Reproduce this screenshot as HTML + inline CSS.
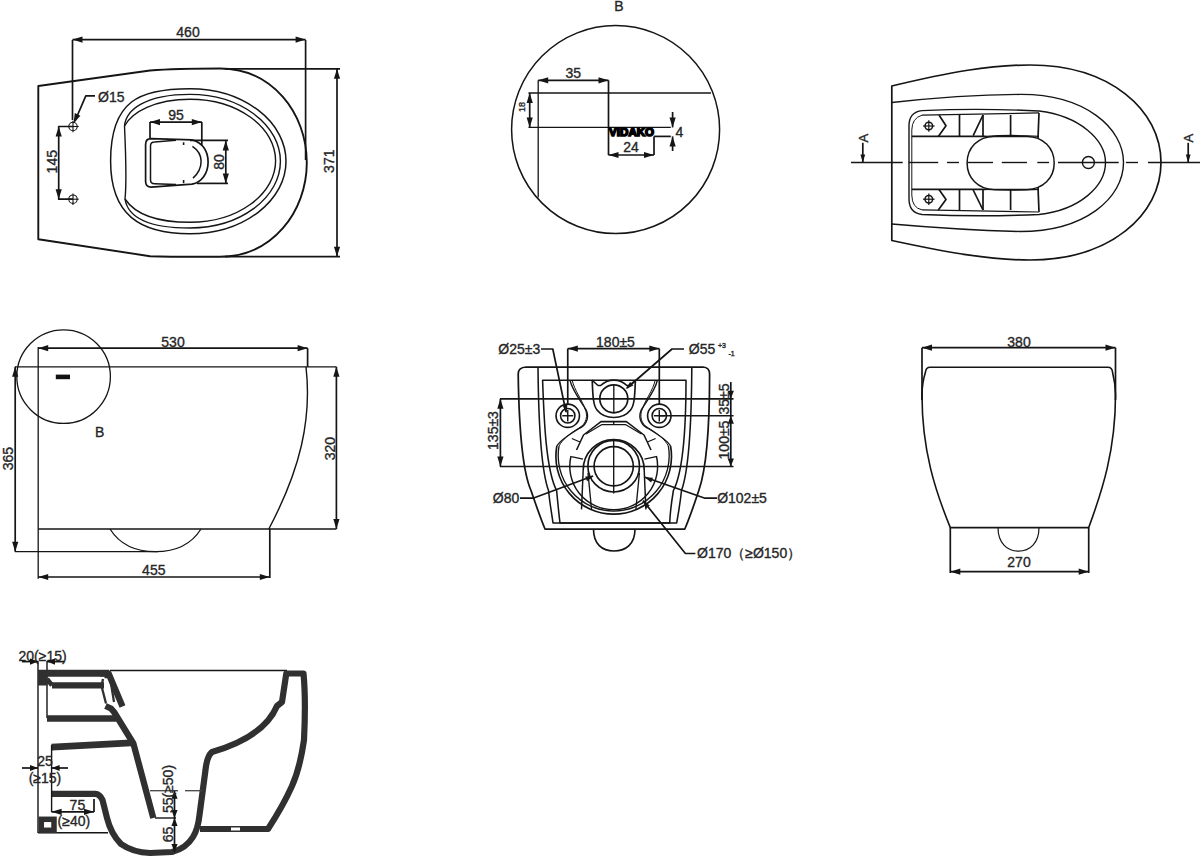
<!DOCTYPE html>
<html><head><meta charset="utf-8"><style>
html,body{margin:0;padding:0;background:#fff;}
svg{display:block;}
text{font-family:"Liberation Sans",sans-serif;}
</style></head><body>
<svg width="1200" height="858" viewBox="0 0 1200 858">
<rect width="1200" height="858" fill="#fff"/>
<line x1="72.5" y1="40" x2="72.5" y2="120" stroke="#151515" stroke-width="1.7" />
<line x1="305.6" y1="40" x2="305.6" y2="160" stroke="#151515" stroke-width="1.7" />
<line x1="72.5" y1="39.6" x2="305.6" y2="39.6" stroke="#151515" stroke-width="1.7" />
<polygon points="72.5,39.6 82.5,36.5 82.5,42.7" fill="#151515"/>
<polygon points="305.6,39.6 295.6,42.7 295.6,36.5" fill="#151515"/>
<text x="188" y="31.5" font-size="14" text-anchor="middle" dominant-baseline="central" fill="#262626" stroke="#262626" stroke-width="0.35" >460</text>
<path d="M38.3,86 L38.3,239.2 L150,256.2 Q175,257 220,256.7 C272,256.7 306.8,212 306.8,162.6 C306.8,113 272,68.5 220,68.5 Q175,68.5 150,70.5 Z" fill="none" stroke="#151515" stroke-width="1.9" stroke-linejoin="round" />
<line x1="225" y1="68.8" x2="340" y2="68.8" stroke="#151515" stroke-width="1.7" />
<line x1="225" y1="256.7" x2="340" y2="256.7" stroke="#151515" stroke-width="1.7" />
<line x1="337" y1="68.8" x2="337" y2="256.7" stroke="#151515" stroke-width="1.7" />
<polygon points="337.0,68.8 340.1,78.8 333.9,78.8" fill="#151515"/>
<polygon points="337.0,256.7 333.9,246.7 340.1,246.7" fill="#151515"/>
<text x="329.5" y="161.2" font-size="14" text-anchor="middle" dominant-baseline="central" fill="#262626" stroke="#262626" stroke-width="0.35" transform="rotate(-90 329.5 161.2)" >371</text>
<path d="M190,88.7 A96,72.55 0 0 1 190,233.8 C140,233.8 110.6,215 110.6,161 C110.6,100 140,88.7 190,88.7 Z" fill="none" stroke="#151515" stroke-width="1.5" stroke-linejoin="round" />
<path d="M190,94.4 A90.4,66.8 0 0 1 190,228 C150,228 128,218 125,199 Q127,180 124.5,126 C126,110 145,94.4 190,94.4 Z" fill="none" stroke="#151515" stroke-width="1.4" stroke-linejoin="round" />
<path d="M190,99.2 A85.6,61.55 0 0 1 190,222.3 C155,222.3 135,214 125,199 M124.5,126 C132,112 155,99.2 190,99.2" fill="none" stroke="#151515" stroke-width="1.4" stroke-linejoin="round" />
<path d="M151.2,138.6 L192,139.8 C202,142 208.1,151 208.1,162 C208.1,173 202,182 192,184.2 L151.2,187.2 Q145.6,187.2 145.6,181.6 L145.6,144.2 Q145.6,138.6 151.2,138.6 Z" fill="none" stroke="#151515" stroke-width="1.7" stroke-linejoin="round" />
<path d="M176,140.2 L154.5,142.1 Q150.5,142.1 150.5,146.1 L150.5,179.7 Q150.5,183.7 154.5,183.7 L176,184.6" fill="none" stroke="#151515" stroke-width="1.5" stroke-linejoin="round" />
<path d="M192.4,146.3 Q201.1,152 201.1,161.3 Q201.1,171 193,178.1" fill="none" stroke="#151515" stroke-width="1.5" stroke-linejoin="round" />
<line x1="183.6" y1="142.3" x2="183.6" y2="145" stroke="#151515" stroke-width="1.6" />
<line x1="183.6" y1="180" x2="183.6" y2="183.2" stroke="#151515" stroke-width="1.6" />
<line x1="150" y1="122" x2="150" y2="138.2" stroke="#151515" stroke-width="1.7" />
<line x1="201.8" y1="122" x2="201.8" y2="146" stroke="#151515" stroke-width="1.7" />
<line x1="150" y1="122.1" x2="201.8" y2="122.1" stroke="#151515" stroke-width="1.7" />
<polygon points="150.0,122.1 160.0,119.0 160.0,125.2" fill="#151515"/>
<polygon points="201.8,122.1 191.8,125.2 191.8,119.0" fill="#151515"/>
<text x="176" y="114.5" font-size="14" text-anchor="middle" dominant-baseline="central" fill="#262626" stroke="#262626" stroke-width="0.35" >95</text>
<line x1="190" y1="140.4" x2="228" y2="140.4" stroke="#151515" stroke-width="1.7" />
<line x1="197" y1="183.4" x2="228" y2="183.4" stroke="#151515" stroke-width="1.7" />
<line x1="225.8" y1="140.4" x2="225.8" y2="183.4" stroke="#151515" stroke-width="1.7" />
<polygon points="225.8,140.4 228.9,150.4 222.7,150.4" fill="#151515"/>
<polygon points="225.8,183.4 222.7,173.4 228.9,173.4" fill="#151515"/>
<text x="218.6" y="162" font-size="14" text-anchor="middle" dominant-baseline="central" fill="#262626" stroke="#262626" stroke-width="0.35" transform="rotate(-90 218.6 162)" >80</text>
<circle cx="73" cy="126.5" r="4.2" fill="none" stroke="#151515" stroke-width="1.1"/>
<line x1="67.3" y1="126.5" x2="78.7" y2="126.5" stroke="#151515" stroke-width="1.1" />
<line x1="73" y1="120.8" x2="73" y2="132.2" stroke="#151515" stroke-width="1.1" />
<circle cx="73" cy="199.2" r="4.2" fill="none" stroke="#151515" stroke-width="1.1"/>
<line x1="67.3" y1="199.2" x2="78.7" y2="199.2" stroke="#151515" stroke-width="1.1" />
<line x1="73" y1="193.5" x2="73" y2="204.89999999999998" stroke="#151515" stroke-width="1.1" />
<polyline points="73,126.5 58.7,126.5 58.7,199.2 73,199.2" fill="none" stroke="#151515" stroke-width="1.7" stroke-linejoin="round"/>
<polygon points="58.7,126.5 61.8,136.5 55.6,136.5" fill="#151515"/>
<polygon points="58.7,199.2 55.6,189.2 61.8,189.2" fill="#151515"/>
<text x="51.7" y="161.7" font-size="14" text-anchor="middle" dominant-baseline="central" fill="#262626" stroke="#262626" stroke-width="0.35" transform="rotate(-90 51.7 161.7)" >145</text>
<polyline points="95,95.8 85.8,95.8 75,121" fill="none" stroke="#151515" stroke-width="1.7" stroke-linejoin="round"/>
<polygon points="73.5,123.5 74.8,113.1 80.4,115.7" fill="#151515"/>
<text x="111.3" y="96.5" font-size="14" text-anchor="middle" dominant-baseline="central" fill="#262626" stroke="#262626" stroke-width="0.35" >Ø15</text>
<text x="619" y="6" font-size="14" text-anchor="middle" dominant-baseline="central" fill="#262626" stroke="#262626" stroke-width="0.35" >B</text>
<circle cx="615.6" cy="129.6" r="104" fill="none" stroke="#151515" stroke-width="1.5"/>
<line x1="538.2" y1="80.3" x2="608.5" y2="80.3" stroke="#151515" stroke-width="1.7" />
<polygon points="538.2,80.3 548.2,77.2 548.2,83.4" fill="#151515"/>
<polygon points="608.5,80.3 598.5,83.4 598.5,77.2" fill="#151515"/>
<text x="573.3" y="72.5" font-size="14" text-anchor="middle" dominant-baseline="central" fill="#262626" stroke="#262626" stroke-width="0.35" >35</text>
<line x1="538.2" y1="80.3" x2="538.2" y2="197.4" stroke="#151515" stroke-width="1.3" />
<line x1="608.5" y1="80.3" x2="608.5" y2="155" stroke="#151515" stroke-width="1.7" />
<line x1="528.5" y1="93" x2="711" y2="93" stroke="#151515" stroke-width="1.3" />
<line x1="528.5" y1="127.4" x2="670.8" y2="127.4" stroke="#151515" stroke-width="1.3" />
<line x1="529.7" y1="93" x2="529.7" y2="127.4" stroke="#151515" stroke-width="1.7" />
<polygon points="529.7,93.0 532.8,103.0 526.6,103.0" fill="#151515"/>
<polygon points="529.7,127.4 526.6,117.4 532.8,117.4" fill="#151515"/>
<text x="521.6" y="107" font-size="9" text-anchor="middle" dominant-baseline="central" fill="#262626" stroke="#262626" stroke-width="0.35" transform="rotate(-90 521.6 107)" >18</text>
<text x="631.6" y="132.2" font-size="11.5" font-weight="bold" text-anchor="middle" dominant-baseline="central" fill="#000" textLength="45" lengthAdjust="spacingAndGlyphs" stroke="#000" stroke-width="1.6">VIDAKO</text>
<line x1="654" y1="136.4" x2="670.8" y2="136.4" stroke="#151515" stroke-width="1.7" />
<line x1="654" y1="136.4" x2="654" y2="155" stroke="#151515" stroke-width="1.7" />
<line x1="608.5" y1="155" x2="654" y2="155" stroke="#151515" stroke-width="1.7" />
<polygon points="608.5,155.0 618.5,151.9 618.5,158.1" fill="#151515"/>
<polygon points="654.0,155.0 644.0,158.1 644.0,151.9" fill="#151515"/>
<text x="631" y="147.4" font-size="14" text-anchor="middle" dominant-baseline="central" fill="#262626" stroke="#262626" stroke-width="0.35" >24</text>
<line x1="672.6" y1="112" x2="672.6" y2="127.4" stroke="#151515" stroke-width="1.7" />
<polygon points="672.6,127.4 669.5,117.4 675.7,117.4" fill="#151515"/>
<line x1="672.6" y1="136.4" x2="672.6" y2="151" stroke="#151515" stroke-width="1.7" />
<polygon points="672.6,136.4 675.7,146.4 669.5,146.4" fill="#151515"/>
<text x="679.5" y="132.4" font-size="14" text-anchor="middle" dominant-baseline="central" fill="#262626" stroke="#262626" stroke-width="0.35" >4</text>
<path d="M891.8,86 L891.8,240.5 C950,253 990,260 1030,260 C1110,260 1161,215 1161,162.5 C1161,110 1110,65 1030,65 C990,65 950,72 891.8,86 Z" fill="none" stroke="#151515" stroke-width="1.7" stroke-linejoin="round" />
<path d="M891.8,102.5 Q960,95 1020,94.4 C1085,94 1123.5,128 1123.5,162.5 C1123.5,198 1085,231.5 1020,231.5 Q960,230 891.8,224" fill="none" stroke="#151515" stroke-width="1.4" stroke-linejoin="round" />
<path d="M922,110.6 Q980,108 1039,111 C1080,116 1105.5,140 1105.5,162.5 C1105.5,186 1080,210 1039,214.5 Q980,217 922,214.5 Q909,213 909,199 L909,126 Q909,112 922,110.6 Z" fill="none" stroke="#151515" stroke-width="1.4" stroke-linejoin="round" />
<path d="M922,115.2 Q912,118 911.8,130 L911.8,195 Q912,208 922,209.8" fill="none" stroke="#151515" stroke-width="1.0" stroke-linejoin="round" />
<path d="M922,115.2 Q990,114 1039,112.9" fill="none" stroke="#151515" stroke-width="1.2" stroke-linejoin="round" />
<path d="M922,209.8 Q990,211 1039,212" fill="none" stroke="#151515" stroke-width="1.2" stroke-linejoin="round" />
<line x1="911.8" y1="136.4" x2="986" y2="136.4" stroke="#151515" stroke-width="1.7" />
<line x1="911.8" y1="189.4" x2="986" y2="189.4" stroke="#151515" stroke-width="1.7" />
<path d="M986,136.4 Q1010,134.5 1039,136.4" fill="none" stroke="#151515" stroke-width="1.2" stroke-linejoin="round" />
<path d="M986,189.4 Q1010,191 1039,189.4" fill="none" stroke="#151515" stroke-width="1.2" stroke-linejoin="round" />
<line x1="959.5" y1="115" x2="959.5" y2="136.4" stroke="#151515" stroke-width="1.7" />
<line x1="959.5" y1="189.4" x2="959.5" y2="210" stroke="#151515" stroke-width="1.7" />
<line x1="983" y1="115" x2="983" y2="136.4" stroke="#151515" stroke-width="1.7" />
<line x1="983" y1="189.4" x2="983" y2="210" stroke="#151515" stroke-width="1.7" />
<line x1="1010.6" y1="115" x2="1010.6" y2="136.4" stroke="#151515" stroke-width="1.7" />
<line x1="1010.6" y1="189.4" x2="1010.6" y2="210" stroke="#151515" stroke-width="1.7" />
<line x1="1039" y1="112.9" x2="1038" y2="138" stroke="#151515" stroke-width="1.7" />
<line x1="1039" y1="212" x2="1038" y2="187" stroke="#151515" stroke-width="1.7" />
<line x1="973.2" y1="135.6" x2="983" y2="115" stroke="#151515" stroke-width="1.7" />
<line x1="973.2" y1="190" x2="983" y2="210" stroke="#151515" stroke-width="1.7" />
<polyline points="939,115 946,125.8 938.3,136.4" fill="none" stroke="#151515" stroke-width="1.7" stroke-linejoin="round"/>
<polyline points="939,189.4 946,199.6 938.3,210" fill="none" stroke="#151515" stroke-width="1.7" stroke-linejoin="round"/>
<path d="M994,136.4 L1027,136.4 C1043,136.4 1054.2,148 1054.2,163 C1054.2,178 1043,189.4 1027,189.4 L994,189.4 C978,189.4 967.1,178 967.1,163 C967.1,148 978,136.4 994,136.4 Z" fill="none" stroke="#151515" stroke-width="1.5" stroke-linejoin="round" />
<circle cx="1088.4" cy="162.5" r="6" fill="none" stroke="#151515" stroke-width="1.4"/>
<circle cx="928.8" cy="126" r="3.8" fill="none" stroke="#151515" stroke-width="1.5"/>
<line x1="923" y1="126" x2="934.6" y2="126" stroke="#151515" stroke-width="1.2" />
<line x1="928.8" y1="120.2" x2="928.8" y2="131.8" stroke="#151515" stroke-width="1.2" />
<circle cx="928.8" cy="199.2" r="3.8" fill="none" stroke="#151515" stroke-width="1.5"/>
<line x1="923" y1="199.2" x2="934.6" y2="199.2" stroke="#151515" stroke-width="1.2" />
<line x1="928.8" y1="193.39999999999998" x2="928.8" y2="205.0" stroke="#151515" stroke-width="1.2" />
<line x1="851" y1="162.5" x2="902.7" y2="162.5" stroke="#151515" stroke-width="1.4" />
<line x1="908.6" y1="162.5" x2="938.2" y2="162.5" stroke="#151515" stroke-width="1.4" />
<line x1="947" y1="162.5" x2="959" y2="162.5" stroke="#151515" stroke-width="1.4" />
<line x1="967.8" y1="162.5" x2="993" y2="162.5" stroke="#151515" stroke-width="1.4" />
<line x1="1001.8" y1="162.5" x2="1027" y2="162.5" stroke="#151515" stroke-width="1.4" />
<line x1="1037.3" y1="162.5" x2="1049" y2="162.5" stroke="#151515" stroke-width="1.4" />
<line x1="1058" y1="162.5" x2="1118.7" y2="162.5" stroke="#151515" stroke-width="1.4" />
<line x1="1126" y1="162.5" x2="1138" y2="162.5" stroke="#151515" stroke-width="1.4" />
<line x1="1148" y1="162.5" x2="1200" y2="162.5" stroke="#151515" stroke-width="1.4" />
<line x1="862.8" y1="142.8" x2="862.8" y2="162.5" stroke="#151515" stroke-width="1.7" />
<polygon points="862.8,162.5 860.4,154.5 865.2,154.5" fill="#151515"/>
<text x="863.3" y="138.2" font-size="13" text-anchor="middle" dominant-baseline="central" fill="#262626" stroke="#262626" stroke-width="0.35" transform="rotate(-90 863.3 138.2)" >A</text>
<line x1="1188.2" y1="142.8" x2="1188.2" y2="162.5" stroke="#151515" stroke-width="1.7" />
<polygon points="1188.2,162.5 1185.8,154.5 1190.6,154.5" fill="#151515"/>
<text x="1188.7" y="138.2" font-size="13" text-anchor="middle" dominant-baseline="central" fill="#262626" stroke="#262626" stroke-width="0.35" transform="rotate(-90 1188.7 138.2)" >A</text>
<circle cx="63.6" cy="376.6" r="46.8" fill="none" stroke="#151515" stroke-width="1.3"/>
<line x1="55.8" y1="376.9" x2="70" y2="376.9" stroke="#111" stroke-width="4.6" />
<text x="99.7" y="431.7" font-size="14" text-anchor="middle" dominant-baseline="central" fill="#262626" stroke="#262626" stroke-width="0.35" >B</text>
<line x1="38.2" y1="347" x2="38.2" y2="578.8" stroke="#151515" stroke-width="1.3" />
<line x1="15" y1="366.8" x2="336.4" y2="366.8" stroke="#151515" stroke-width="1.3" />
<line x1="38.2" y1="529" x2="336.4" y2="529" stroke="#151515" stroke-width="1.3" />
<path d="M306,366.8 C312,420 300,470 268.8,529" fill="none" stroke="#151515" stroke-width="1.4" stroke-linejoin="round" />
<line x1="38.2" y1="348.2" x2="307.6" y2="348.2" stroke="#151515" stroke-width="1.7" />
<polygon points="38.2,348.2 48.2,345.1 48.2,351.3" fill="#151515"/>
<polygon points="307.6,348.2 297.6,351.3 297.6,345.1" fill="#151515"/>
<line x1="307.6" y1="348.2" x2="307.6" y2="367" stroke="#151515" stroke-width="1.7" />
<text x="173" y="342" font-size="14" text-anchor="middle" dominant-baseline="central" fill="#262626" stroke="#262626" stroke-width="0.35" >530</text>
<line x1="336.4" y1="366.8" x2="336.4" y2="529" stroke="#151515" stroke-width="1.7" />
<polygon points="336.4,366.8 339.5,376.8 333.3,376.8" fill="#151515"/>
<polygon points="336.4,529.0 333.3,519.0 339.5,519.0" fill="#151515"/>
<text x="329.6" y="448.6" font-size="14" text-anchor="middle" dominant-baseline="central" fill="#262626" stroke="#262626" stroke-width="0.35" transform="rotate(-90 329.6 448.6)" >320</text>
<line x1="15.2" y1="366.8" x2="15.2" y2="551.7" stroke="#151515" stroke-width="1.7" />
<polygon points="15.2,366.8 18.3,376.8 12.1,376.8" fill="#151515"/>
<polygon points="15.2,551.7 12.1,541.7 18.3,541.7" fill="#151515"/>
<text x="8.5" y="458.7" font-size="14" text-anchor="middle" dominant-baseline="central" fill="#262626" stroke="#262626" stroke-width="0.35" transform="rotate(-90 8.5 458.7)" >365</text>
<line x1="15" y1="551.7" x2="158" y2="551.7" stroke="#151515" stroke-width="1.2" />
<path d="M110,529 C122,548 140,551.7 155.5,551.7 C171,551.7 189,548 201,529" fill="none" stroke="#151515" stroke-width="1.3" stroke-linejoin="round" />
<line x1="38.2" y1="577" x2="269.8" y2="577" stroke="#151515" stroke-width="1.7" />
<polygon points="38.2,577.0 48.2,573.9 48.2,580.1" fill="#151515"/>
<polygon points="269.8,577.0 259.8,580.1 259.8,573.9" fill="#151515"/>
<line x1="269.8" y1="529" x2="269.8" y2="578" stroke="#151515" stroke-width="1.7" />
<text x="153.8" y="570.3" font-size="14" text-anchor="middle" dominant-baseline="central" fill="#262626" stroke="#262626" stroke-width="0.35" >455</text>
<path d="M526,367 L703,367 Q709.6,367.5 709.6,374 C709.6,430 706,470 698.8,490.5 C694,505 690,517 684.8,529 L545,529 C540,517 536,505 531,490.5 C522,470 519,430 518.2,374 Q518.2,367.5 526,367 Z" fill="none" stroke="#151515" stroke-width="1.75" stroke-linejoin="round" />
<path d="M538,367 C538.5,420 541,470 548.5,490.5 C550,505 552,515 553,523 L676.7,523 C678,515 680,505 681.5,490.5 C689,470 691.5,420 691.8,367" fill="none" stroke="#151515" stroke-width="1.55" stroke-linejoin="round" />
<path d="M542.6,380.2 L686,380.2 C686,420 684,470 673.4,490.5 C671,505 670,515 669.7,523 L560,523 C559,515 558,505 556.6,490.5 C546,470 544,420 542.6,380.2 Z" fill="none" stroke="#151515" stroke-width="1.55" stroke-linejoin="round" />
<path d="M593.5,529 C593.5,544 602,551 614,551 C626,551 635,544 635,529" fill="none" stroke="#151515" stroke-width="1.65" stroke-linejoin="round" />
<path d="M570,380.2 C572,390 580,400 585.8,409.3 C589.0,415 588.0,424 580.0,428 C570.0,434 560,440 556.84,446" fill="none" stroke="#151515" stroke-width="1.4" stroke-linejoin="round" />
<path d="M657.4,380.2 C655.4,390 647.4,400 641.6,409.3 C638.4,415 639.4,424 647.4,428 C657.4,434 667.4,440 670.56,446" fill="none" stroke="#151515" stroke-width="1.4" stroke-linejoin="round" />
<path d="M572.2,380.2 C574.2,390 582.2,400 585.14,409.3 C587.9,415 586.9,424 578.9,428 C568.9,434 562.2,440 559.0400000000001,446" fill="none" stroke="#151515" stroke-width="1.0" stroke-linejoin="round" />
<path d="M655.1999999999999,380.2 C653.1999999999999,390 645.1999999999999,400 642.26,409.3 C639.5,415 640.5,424 648.5,428 C658.5,434 665.1999999999999,440 668.3599999999999,446" fill="none" stroke="#151515" stroke-width="1.0" stroke-linejoin="round" />
<path d="M556.84,446 A57.8,57.8 0 1 0 670.56,446" fill="none" stroke="#151515" stroke-width="1.65" stroke-linejoin="round" />
<path d="M559.04,446 A55.5,55.5 0 1 0 668.36,446" fill="none" stroke="#151515" stroke-width="1.35" stroke-linejoin="round" />
<path d="M592,380.2 L598,385.5 L600.7,385.5 A18.7,18.7 0 0 1 626.9,385.5 L629.6,385.5 L635.4,380.2" fill="none" stroke="#151515" stroke-width="1.55" stroke-linejoin="round" />
<path d="M592.2,380.2 C592.8,395 593,405 597,410 C601,415 606,417.5 613.8,417.5 C621.6,417.5 626.6,415 630.6,410 C634.6,405 634.8,395 635.4,380.2" fill="none" stroke="#151515" stroke-width="1.65" stroke-linejoin="round" />
<circle cx="567.75" cy="415.75" r="11.7" fill="none" stroke="#151515" stroke-width="1.65"/>
<circle cx="567.75" cy="415.75" r="7.2" fill="none" stroke="#151515" stroke-width="1.55"/>
<line x1="562.25" y1="415.75" x2="573.25" y2="415.75" stroke="#151515" stroke-width="1.45" />
<line x1="567.75" y1="410" x2="567.75" y2="421.5" stroke="#151515" stroke-width="1.45" />
<circle cx="659.3" cy="415.75" r="11.7" fill="none" stroke="#151515" stroke-width="1.65"/>
<circle cx="659.3" cy="415.75" r="7.2" fill="none" stroke="#151515" stroke-width="1.55"/>
<line x1="653.8" y1="415.75" x2="664.8" y2="415.75" stroke="#151515" stroke-width="1.45" />
<line x1="659.3" y1="410" x2="659.3" y2="421.5" stroke="#151515" stroke-width="1.45" />
<circle cx="613.8" cy="398.8" r="14" fill="none" stroke="#151515" stroke-width="1.65"/>
<line x1="613.8" y1="384.8" x2="613.8" y2="412.8" stroke="#151515" stroke-width="1.35" />
<path d="M576.5,450 L583.5,435 L601,421.6 L626.4,421.6 L644,435 L651,450" fill="none" stroke="#151515" stroke-width="1.55" stroke-linejoin="round" />
<path d="M586,434 L602,424.5 L625.4,424.5 L641.4,434" fill="none" stroke="#151515" stroke-width="1.25" stroke-linejoin="round" />
<line x1="613.7" y1="421.6" x2="613.7" y2="424.5" stroke="#151515" stroke-width="1.35" />
<path d="M571,456 A43.5,43.5 0 0 0 613.7,509.7 A43.5,43.5 0 0 0 656.4,456" fill="none" stroke="#151515" stroke-width="1.45" stroke-linejoin="round" />
<circle cx="613.7" cy="466.2" r="19.6" fill="none" stroke="#151515" stroke-width="1.65"/>
<circle cx="613.7" cy="466.2" r="25.8" fill="none" stroke="#151515" stroke-width="1.65"/>
<path d="M583.2,470 A30.5,30.5 0 0 1 644.2,470" fill="none" stroke="#151515" stroke-width="1.65" stroke-linejoin="round" />
<line x1="613.7" y1="439.6" x2="613.7" y2="493.4" stroke="#151515" stroke-width="1.35" />
<line x1="571.8" y1="438.5" x2="580" y2="442" stroke="#151515" stroke-width="1.35" />
<line x1="655.6" y1="438.5" x2="647.4" y2="442" stroke="#151515" stroke-width="1.35" />
<line x1="571.3" y1="456.7" x2="583" y2="459.2" stroke="#151515" stroke-width="1.35" />
<line x1="656.1" y1="456.7" x2="644.4" y2="459.2" stroke="#151515" stroke-width="1.35" />
<line x1="583.2" y1="470" x2="581.5" y2="509.4" stroke="#151515" stroke-width="1.45" />
<line x1="644.2" y1="470" x2="645.9" y2="509.4" stroke="#151515" stroke-width="1.45" />
<line x1="588" y1="473" x2="591.5" y2="509" stroke="#151515" stroke-width="1.35" />
<line x1="639.4" y1="473" x2="635.9" y2="509" stroke="#151515" stroke-width="1.35" />
<line x1="567.75" y1="348.6" x2="659.3" y2="348.6" stroke="#151515" stroke-width="1.7" />
<polygon points="567.8,348.6 577.8,345.5 577.8,351.7" fill="#151515"/>
<polygon points="659.3,348.6 649.3,351.7 649.3,345.5" fill="#151515"/>
<line x1="567.75" y1="348.6" x2="567.75" y2="405" stroke="#151515" stroke-width="1.7" />
<line x1="659.3" y1="348.6" x2="659.3" y2="405" stroke="#151515" stroke-width="1.7" />
<text x="615.5" y="341.9" font-size="14" text-anchor="middle" dominant-baseline="central" fill="#262626" stroke="#262626" stroke-width="0.35" >180±5</text>
<polyline points="541,349 552.8,349 566,412" fill="none" stroke="#151515" stroke-width="1.7" stroke-linejoin="round"/>
<polygon points="566.5,413.0 562.5,405.6 567.4,404.7" fill="#151515"/>
<text x="519.3" y="349" font-size="14" text-anchor="middle" dominant-baseline="central" fill="#262626" stroke="#262626" stroke-width="0.35" >Ø25±3</text>
<polyline points="684,349 672,349 627,388" fill="none" stroke="#151515" stroke-width="1.7" stroke-linejoin="round"/>
<polygon points="625.7,389.0 630.1,381.9 633.4,385.6" fill="#151515"/>
<text x="702" y="349" font-size="14" text-anchor="middle" dominant-baseline="central" fill="#262626" stroke="#262626" stroke-width="0.35" >Ø55</text>
<text x="722" y="345.5" font-size="7" text-anchor="middle" dominant-baseline="central" fill="#262626" stroke="#262626" stroke-width="0.35" >+3</text>
<text x="731.5" y="353" font-size="7" text-anchor="middle" dominant-baseline="central" fill="#262626" stroke="#262626" stroke-width="0.35" >-1</text>
<line x1="500" y1="398.8" x2="733.5" y2="398.8" stroke="#151515" stroke-width="1.7" />
<line x1="500" y1="466.5" x2="733.5" y2="466.5" stroke="#151515" stroke-width="1.7" />
<line x1="500.4" y1="398.8" x2="500.4" y2="466.5" stroke="#151515" stroke-width="1.7" />
<polygon points="500.4,398.8 503.5,408.8 497.3,408.8" fill="#151515"/>
<polygon points="500.4,466.5 497.3,456.5 503.5,456.5" fill="#151515"/>
<text x="493" y="430.5" font-size="14" text-anchor="middle" dominant-baseline="central" fill="#262626" stroke="#262626" stroke-width="0.35" transform="rotate(-90 493 430.5)" >135±3</text>
<line x1="659.3" y1="415.75" x2="733.5" y2="415.75" stroke="#151515" stroke-width="1.7" />
<line x1="730.8" y1="382" x2="730.8" y2="466.5" stroke="#151515" stroke-width="1.7" />
<polygon points="730.8,398.8 727.7,390.8 733.9,390.8" fill="#151515"/>
<polygon points="730.8,415.8 733.9,423.8 727.7,423.8" fill="#151515"/>
<polygon points="730.8,466.5 727.7,458.5 733.9,458.5" fill="#151515"/>
<text x="723.5" y="399" font-size="14" text-anchor="middle" dominant-baseline="central" fill="#262626" stroke="#262626" stroke-width="0.35" transform="rotate(-90 723.5 399)" >35±5</text>
<text x="723.5" y="440" font-size="14" text-anchor="middle" dominant-baseline="central" fill="#262626" stroke="#262626" stroke-width="0.35" transform="rotate(-90 723.5 440)" >100±5</text>
<polyline points="520,498.2 533,498.2 593,476" fill="none" stroke="#151515" stroke-width="1.7" stroke-linejoin="round"/>
<polygon points="593.6,475.9 587.1,481.2 585.2,476.5" fill="#151515"/>
<text x="506" y="497.7" font-size="14" text-anchor="middle" dominant-baseline="central" fill="#262626" stroke="#262626" stroke-width="0.35" >Ø80</text>
<polyline points="717,498.2 705,498.2 645,477.3" fill="none" stroke="#151515" stroke-width="1.7" stroke-linejoin="round"/>
<polygon points="644.6,477.3 653.0,477.7 651.2,482.4" fill="#151515"/>
<text x="742" y="497.7" font-size="14" text-anchor="middle" dominant-baseline="central" fill="#262626" stroke="#262626" stroke-width="0.35" >Ø102±5</text>
<polyline points="695.4,553.5 685.4,553.5 643,500.6" fill="none" stroke="#151515" stroke-width="1.7" stroke-linejoin="round"/>
<polygon points="643.0,500.6 649.8,505.5 645.8,508.5" fill="#151515"/>
<text x="697" y="553" font-size="14" text-anchor="start" dominant-baseline="central" fill="#262626" stroke="#262626" stroke-width="0.35" >Ø170（≥Ø150）</text>
<line x1="922" y1="347.7" x2="1115.5" y2="347.7" stroke="#151515" stroke-width="1.7" />
<polygon points="922.0,347.7 932.0,344.6 932.0,350.8" fill="#151515"/>
<polygon points="1115.5,347.7 1105.5,350.8 1105.5,344.6" fill="#151515"/>
<line x1="922" y1="347.7" x2="922" y2="400" stroke="#151515" stroke-width="1.7" />
<line x1="1115.5" y1="347.7" x2="1115.5" y2="400" stroke="#151515" stroke-width="1.7" />
<text x="1019" y="342" font-size="14" text-anchor="middle" dominant-baseline="central" fill="#262626" stroke="#262626" stroke-width="0.35" >380</text>
<path d="M930,367.2 L1108,367.2 Q1112,367.2 1112.5,372 C1114.5,380 1115.5,388 1115.5,395 C1115.5,450 1102.5,490 1088.7,527.6 L950.3,527.6 C935,490 922,450 922,395 C922,388 923,380 925.5,372 Q926,367.2 930,367.2 Z" fill="none" stroke="#151515" stroke-width="1.6" stroke-linejoin="round" />
<line x1="950.3" y1="527.6" x2="950.3" y2="573" stroke="#151515" stroke-width="1.7" />
<line x1="1088.7" y1="527.6" x2="1088.7" y2="573" stroke="#151515" stroke-width="1.7" />
<line x1="950.3" y1="571.7" x2="1088.7" y2="571.7" stroke="#151515" stroke-width="1.7" />
<polygon points="950.3,571.7 960.3,568.6 960.3,574.8" fill="#151515"/>
<polygon points="1088.7,571.7 1078.7,574.8 1078.7,568.6" fill="#151515"/>
<text x="1019" y="562.2" font-size="14" text-anchor="middle" dominant-baseline="central" fill="#262626" stroke="#262626" stroke-width="0.35" >270</text>
<path d="M998,527.6 C998,543 1007,551.2 1018.5,551.2 C1030,551.2 1039,543 1039,527.6" fill="none" stroke="#151515" stroke-width="1.2" stroke-linejoin="round" />
<line x1="38" y1="661" x2="38" y2="833" stroke="#151515" stroke-width="1.4" />
<line x1="47" y1="661" x2="47" y2="718" stroke="#151515" stroke-width="1.4" />
<line x1="38" y1="832.8" x2="108" y2="832.8" stroke="#151515" stroke-width="1.4" />
<line x1="110" y1="670.5" x2="287" y2="670.5" stroke="#151515" stroke-width="1.5" />
<text x="42.6" y="655.5" font-size="14" text-anchor="middle" dominant-baseline="central" fill="#262626" stroke="#262626" stroke-width="0.35" >20(≥15)</text>
<line x1="22" y1="661.6" x2="38" y2="661.6" stroke="#151515" stroke-width="1.7" />
<polygon points="38.0,661.6 30.0,664.7 30.0,658.5" fill="#151515"/>
<line x1="47" y1="661.6" x2="64" y2="661.6" stroke="#151515" stroke-width="1.7" />
<polygon points="47.0,661.6 55.0,658.5 55.0,664.7" fill="#151515"/>
<rect x="38" y="670" width="9.5" height="15.5" fill="#303030"/>
<polyline points="38,673.3 109,673.3" fill="none" stroke="#303030" stroke-width="6.9" stroke-linejoin="round"/>
<polyline points="52,685.4 104,685.4" fill="none" stroke="#303030" stroke-width="6.1" stroke-linejoin="round"/>
<polyline points="47,679 52,685.4" fill="none" stroke="#303030" stroke-width="4.7" stroke-linejoin="round"/>
<polyline points="100,673.3 108.5,673.3 122.5,706.5" fill="none" stroke="#303030" stroke-width="6.3" stroke-linejoin="round"/>
<path d="M103,679 L101.5,686 L106,703.5 M104.5,677 L110,677 L114,702" fill="none" stroke="#303030" stroke-width="2.3" stroke-linejoin="round" />
<polyline points="105.5,706 111,708.5 114,712 133.4,743.5 153.3,818" fill="none" stroke="#303030" stroke-width="6.3" stroke-linejoin="round"/>
<polyline points="47,718.6 116,718.6" fill="none" stroke="#303030" stroke-width="6.5" stroke-linejoin="round"/>
<polyline points="51.6,747.2 131,742.8" fill="none" stroke="#303030" stroke-width="6.7" stroke-linejoin="round"/>
<line x1="155" y1="818" x2="176" y2="818" stroke="#151515" stroke-width="1.4" />
<path d="M51.6,793.8 L95,793.8 Q100,794 102.5,800 L107,818 Q111,834 121,844 Q133,852.5 150,853 L172,852 Q186,848.5 193,837 Q198,829 199.5,815 L205.5,770 Q207,756 212,752 C236,745 266,732 277,706 L282,702 L286.3,673.5 L303.5,673.5 Q306,700 304,740 Q300,768 292,786 Q283,806 268,829 L200,829" fill="none" stroke="#303030" stroke-width="6.2" stroke-linejoin="round" />
<rect x="231" y="827.5" width="9" height="3" fill="#fff"/>
<line x1="51.6" y1="745" x2="51.6" y2="812" stroke="#151515" stroke-width="1.4" />
<rect x="41.3" y="819.3" width="12.7" height="11" fill="none" stroke="#303030" stroke-width="5.5"/>
<line x1="51.6" y1="811.8" x2="94" y2="811.8" stroke="#151515" stroke-width="1.7" />
<polygon points="51.6,811.8 61.6,808.7 61.6,814.9" fill="#151515"/>
<polygon points="94.0,811.8 84.0,814.9 84.0,808.7" fill="#151515"/>
<line x1="94" y1="799" x2="94" y2="812" stroke="#151515" stroke-width="1.7" />
<text x="77.4" y="805" font-size="14" text-anchor="middle" dominant-baseline="central" fill="#262626" stroke="#262626" stroke-width="0.35" >75</text>
<text x="73.9" y="820.5" font-size="14" text-anchor="middle" dominant-baseline="central" fill="#262626" stroke="#262626" stroke-width="0.35" >(≥40)</text>
<line x1="22" y1="768" x2="38" y2="768" stroke="#151515" stroke-width="1.7" />
<polygon points="38.0,768.0 30.0,771.1 30.0,764.9" fill="#151515"/>
<line x1="51.6" y1="768" x2="68" y2="768" stroke="#151515" stroke-width="1.7" />
<polygon points="51.6,768.0 59.6,764.9 59.6,771.1" fill="#151515"/>
<text x="45" y="761" font-size="14" text-anchor="middle" dominant-baseline="central" fill="#262626" stroke="#262626" stroke-width="0.35" >25</text>
<text x="45" y="777.6" font-size="14" text-anchor="middle" dominant-baseline="central" fill="#262626" stroke="#262626" stroke-width="0.35" >(≥15)</text>
<line x1="150" y1="790.7" x2="178" y2="790.7" stroke="#444" stroke-width="1.3" />
<line x1="185" y1="790.7" x2="202.5" y2="790.7" stroke="#444" stroke-width="1.3" />
<line x1="174.5" y1="790.7" x2="174.5" y2="852" stroke="#151515" stroke-width="1.7" />
<polygon points="174.5,790.7 177.6,798.7 171.4,798.7" fill="#151515"/>
<polygon points="174.5,818.0 171.4,810.0 177.6,810.0" fill="#151515"/>
<polygon points="174.5,818.0 177.6,826.0 171.4,826.0" fill="#151515"/>
<polygon points="174.5,852.0 171.4,844.0 177.6,844.0" fill="#151515"/>
<text x="168.4" y="789" font-size="14" text-anchor="middle" dominant-baseline="central" fill="#262626" stroke="#262626" stroke-width="0.35" transform="rotate(-90 168.4 789)" >55(≥50)</text>
<text x="168.4" y="834.5" font-size="14" text-anchor="middle" dominant-baseline="central" fill="#262626" stroke="#262626" stroke-width="0.35" transform="rotate(-90 168.4 834.5)" >65</text>
</svg></body></html>
